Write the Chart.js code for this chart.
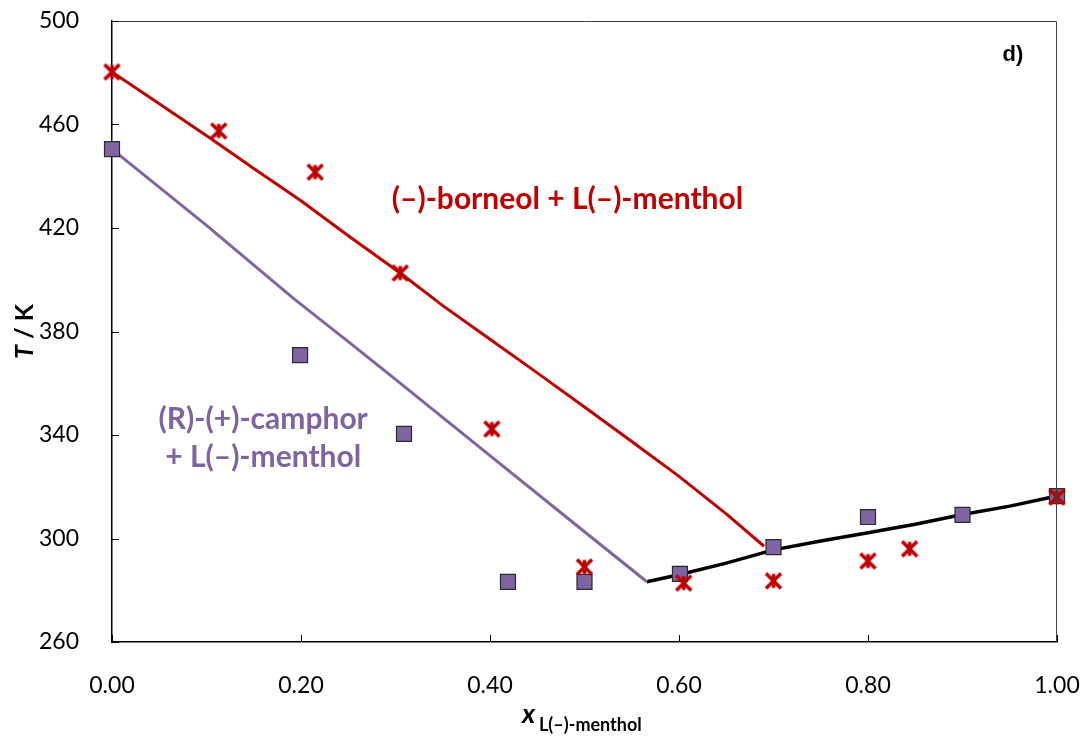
<!DOCTYPE html>
<html lang="en">
<head>
    <meta charset="UTF-8">
    <title>borneol / camphor + menthol</title>
    <script src="https://cdn.jsdelivr.net/npm/chart.js"></script>
    <style>
        html, body { margin: 0; padding: 0; background: #fff; }
        #wrap { width: 1084px; height: 738px; }
    </style>
</head>
<body>
    <div id="wrap"><canvas id="chart" width="1084" height="738"></canvas></div>

    <script>
        // experimental points
        const borneolX = [0.000, 0.113, 0.215, 0.305, 0.402, 0.500, 0.605, 0.700, 0.800, 0.844, 1.000];
        const borneolT = [480.3, 457.5, 441.6, 402.6, 342.3, 289.0, 282.8, 283.6, 291.3, 296.0, 316.0];

        const camphorX = [0.000, 0.199, 0.309, 0.419, 0.500, 0.601, 0.700, 0.800, 0.900, 1.000];
        const camphorT = [450.5, 370.9, 340.4, 283.2, 283.2, 286.3, 296.7, 308.3, 309.1, 316.4];

        // calculated liquidus lines
        const borneolLineX = [0.000, 0.050, 0.104, 0.150, 0.200, 0.250, 0.305, 0.350, 0.400, 0.450, 0.500, 0.550, 0.600, 0.650, 0.690];
        const borneolLineT = [480.3, 468.0, 454.7, 443.0, 430.5, 417.0, 402.6, 390.0, 377.0, 364.0, 350.8, 337.5, 324.0, 309.5, 297.0];

        const camphorLineX = [0.000, 0.100, 0.192, 0.252, 0.300, 0.400, 0.500, 0.566];
        const camphorLineT = [450.5, 421.0, 392.8, 375.5, 361.5, 332.0, 302.6, 283.3];

        const mentholLineX = [0.566, 0.600, 0.650, 0.700, 0.750, 0.800, 0.850, 0.900, 0.950, 1.000];
        const mentholLineT = [283.3, 286.0, 290.5, 295.6, 299.0, 302.2, 305.5, 309.3, 312.5, 316.4];

        const xTicks = [0.0, 0.2, 0.4, 0.6, 0.8, 1.0];
        const yTicks = [260, 300, 340, 380, 420, 460, 500];

        const RED = '#C00000';
        const PURPLE = '#8064A2';

        function pts(xs, ys) {
            return xs.map((x, i) => ({ x: x, y: ys[i] }));
        }

        // excel style star marker (X with a vertical bar)
        function starMarker() {
            const c = document.createElement('canvas');
            c.width = 21; c.height = 21;
            const g = c.getContext('2d');
            g.strokeStyle = RED;
            g.lineWidth = 3.6;
            g.beginPath();
            g.moveTo(3, 3); g.lineTo(18, 18);
            g.moveTo(18, 3); g.lineTo(3, 18);
            g.moveTo(10.5, 3.5); g.lineTo(10.5, 17.5);
            g.stroke();
            return c;
        }

        // inner ticks, frame and the text labels
        const decor = {
            id: 'decor',
            afterDraw(chart) {
                const ctx = chart.ctx;
                const a = chart.chartArea;
                const xs = chart.scales.x, ys = chart.scales.y;
                ctx.save();

                // top/right frame
                ctx.strokeStyle = '#404040';
                ctx.lineWidth = 1;
                ctx.beginPath();
                ctx.moveTo(a.left, a.top + 0.5);
                ctx.lineTo(a.right - 0.5, a.top + 0.5);
                ctx.lineTo(a.right - 0.5, a.bottom);
                ctx.stroke();

                // ticks pointing inward
                ctx.strokeStyle = '#000';
                ctx.lineWidth = 1;
                ctx.beginPath();
                xTicks.forEach(v => {
                    const px = Math.round(xs.getPixelForValue(v)) + 0.5;
                    ctx.moveTo(px, a.bottom);
                    ctx.lineTo(px, a.bottom - 7);
                });
                yTicks.forEach(v => {
                    const py = Math.round(ys.getPixelForValue(v)) + 0.5;
                    ctx.moveTo(a.left, py);
                    ctx.lineTo(a.left + 7, py);
                });
                ctx.stroke();

                ctx.textAlign = 'center';
                ctx.textBaseline = 'middle';

                ctx.fillStyle = RED;
                ctx.font = 'bold 30px Lato';
                ctx.fillText('(\u2013)-borneol + L(\u2013)-menthol',
                    xs.getPixelForValue(0.482), ys.getPixelForValue(431));

                ctx.fillStyle = PURPLE;
                ctx.fillText('(R)-(+)-camphor',
                    xs.getPixelForValue(0.160), ys.getPixelForValue(346));
                ctx.fillText('+ L(\u2013)-menthol',
                    xs.getPixelForValue(0.160), ys.getPixelForValue(331.5));

                ctx.fillStyle = '#000';
                ctx.font = 'bold 22px "Liberation Sans"';
                ctx.fillText('d)', 1013, 55);

                // y axis title
                ctx.save();
                ctx.translate(25, (a.top + a.bottom) / 2);
                ctx.rotate(-Math.PI / 2);
                ctx.font = 'italic bold 25px Lato';
                const w1 = ctx.measureText('T').width;
                ctx.font = 'bold 25px Lato';
                const w2 = ctx.measureText(' / K').width;
                ctx.textAlign = 'left';
                ctx.font = 'italic bold 25px Lato';
                ctx.fillText('T', -(w1 + w2) / 2, 0);
                ctx.font = 'bold 25px Lato';
                ctx.fillText(' / K', -(w1 + w2) / 2 + w1, 0);
                ctx.restore();

                // x axis title with subscript
                ctx.textAlign = 'left';
                ctx.textBaseline = 'alphabetic';
                ctx.font = 'italic bold 27px Lato';
                ctx.fillText('x', 522, 723);
                ctx.font = 'bold 18px Lato';
                ctx.fillText('L(\u2013)-menthol', 539, 731);

                ctx.restore();
            }
        };

        const lineBase = { showLine: true, pointRadius: 0, pointHoverRadius: 0, fill: false, tension: 0, order: 2, clip: false };

        new Chart(document.getElementById('chart'), {
            type: 'scatter',
            data: {
                datasets: [
                    Object.assign({ label: 'borneol calc', data: pts(borneolLineX, borneolLineT), borderColor: RED, borderWidth: 3 }, lineBase),
                    Object.assign({ label: 'camphor calc', data: pts(camphorLineX, camphorLineT), borderColor: PURPLE, borderWidth: 3 }, lineBase),
                    Object.assign({ label: 'menthol calc', data: pts(mentholLineX, mentholLineT), borderColor: '#000', borderWidth: 3.5 }, lineBase),
                    {
                        label: '(R)-(+)-camphor + L(-)-menthol',
                        data: pts(camphorX, camphorT),
                        pointStyle: 'rect',
                        pointRadius: 10.6,
                        backgroundColor: PURPLE,
                        borderColor: '#2b2b2b',
                        borderWidth: 1.2,
                        clip: false,
                        order: 1
                    },
                    {
                        label: '(-)-borneol + L(-)-menthol',
                        data: pts(borneolX, borneolT),
                        pointStyle: starMarker(),
                        pointRadius: 10,
                        clip: false,
                        order: 0
                    }
                ]
            },
            options: {
                responsive: false,
                animation: false,
                layout: { padding: { left: 0, right: 27, top: 21, bottom: 0 } },
                plugins: { legend: { display: false }, tooltip: { enabled: false } },
                scales: {
                    x: {
                        type: 'linear',
                        min: 0, max: 1,
                        afterFit: s => { s.height = 96; s.paddingLeft = 0; s.paddingRight = 0; },
                        afterBuildTicks: s => { s.ticks = xTicks.map(v => ({ value: v })); },
                        grid: { display: false },
                        border: { display: true, color: '#000', width: 1.5 },
                        ticks: {
                            padding: 22,
                            color: '#000',
                            font: { family: 'Lato', size: 23 },
                            maxRotation: 0,
                            callback: v => Number(v).toFixed(2)
                        }
                    },
                    y: {
                        type: 'linear',
                        min: 260, max: 500,
                        afterFit: s => { s.width = 112; s.paddingTop = 0; s.paddingBottom = 0; },
                        afterBuildTicks: s => { s.ticks = yTicks.map(v => ({ value: v })); },
                        grid: { display: false },
                        border: { display: true, color: '#000', width: 1.5 },
                        ticks: {
                            padding: 25,
                            color: '#000',
                            font: { family: 'Lato', size: 23 },
                            callback: v => String(v)
                        }
                    }
                }
            },
            plugins: [decor]
        });
    </script>
</body>
</html>
